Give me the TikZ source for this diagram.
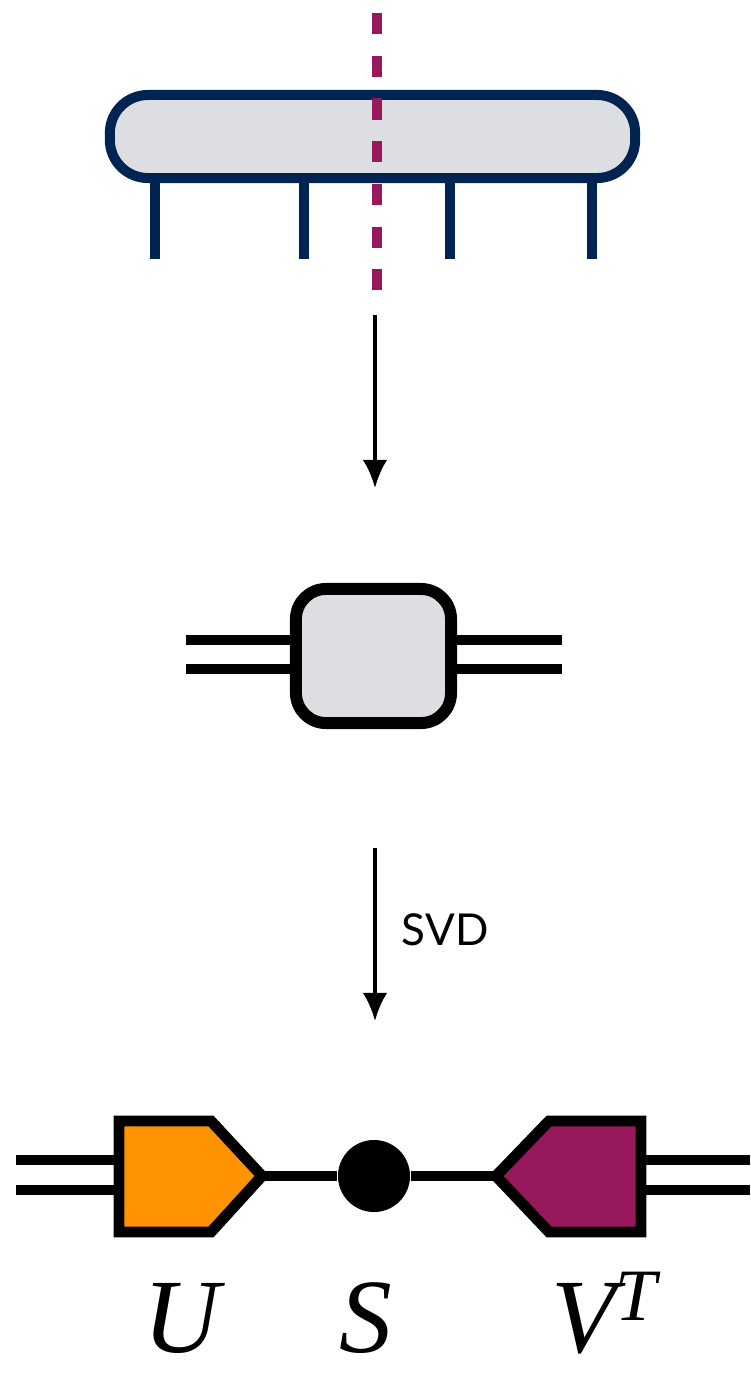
\documentclass[tikz,border=0pt]{standalone}
\usepackage{fontspec}
\setsansfont{Lato}
\newfontfamily\lblfont{Liberation Serif}
\usetikzlibrary{arrows.meta, positioning, calc}
\definecolor{TensorNavy}{RGB}{0,36,82}
\definecolor{CutPurple}{RGB}{152,24,92}
\definecolor{TensorGray}{RGB}{221,222,225}
\definecolor{UOrange}{RGB}{255,147,0}

\begin{document}
\begin{tikzpicture}[x=0.01cm, y=-0.01cm,
	bond/.style={line width=2.85pt},
	flow/.style={line width=1.1pt, -{Latex[length=8pt,width=7pt]}},
	factor/.style={draw, line width=3.1pt, line join=miter},
	lbl/.style={font=\lblfont\itshape\fontsize{30}{34}\selectfont, anchor=base, inner sep=0pt}]
	\useasboundingbox (0,0) rectangle (750,1378);
	% the chain
	\node[draw=TensorNavy, fill=TensorGray, line width=2.85pt, rounded corners=0.38cm,
		minimum width=5.25cm, minimum height=0.83cm, inner sep=0pt] (mps) at (372.5,136.5) {};
	\foreach \x in {155,304,450,592}
		{\draw[TensorNavy, line width=2.7pt] (mps.south -| \x,0) -- ++(0,76);}
	\coordinate (cuttop) at (377,13);
	\coordinate (cutbot) at (377,291);
	\draw[CutPurple, line width=3pt, dash pattern=on 6pt off 6.15pt] (cuttop) -- (cutbot);
	\coordinate (a1s) at (375,315);
	\coordinate (a1e) at (375,488);
	\draw[flow] (a1s) -- (a1e);
	% the two-site block
	\node[draw, fill=TensorGray, line width=3.4pt, rounded corners=0.3cm,
		minimum width=1.55cm, minimum height=1.34cm, inner sep=0pt] (theta) at (373.5,656) {};
	\foreach \y in {640,669}
		{\draw[bond] (theta.west |- 0,\y) -- ++(-104,0);
		 \draw[bond] (theta.east |- 0,\y) -- ++(105,0);}
	\coordinate (a2s) at (375,848);
	\coordinate (a2e) at (375,1021);
	\draw[flow] (a2s) -- (a2e) node[pos=0.47, anchor=west, xshift=0.25cm, inner sep=0pt,
		font=\sffamily\fontsize{12.5}{14}\selectfont] (svd) {SVD};
	% U S V^T
	\foreach \y in {1160,1190}
		{\draw[bond] (16,\y) -- (125,\y);
		 \draw[bond] (635,\y) -- (750,\y);}
	\coordinate (utip) at (262,1176);
	\coordinate (vtip) at (496,1176);
	\node[circle, fill, minimum size=0.72cm, inner sep=0pt] (s) at (374,1176) {};
	\draw[bond] (utip) -- (s) -- (vtip);
	\draw[factor, fill=UOrange] (119,1121) -- (211,1121) -- (utip) -- (211,1232) -- (119,1232) -- cycle;
	\draw[factor, fill=CutPurple] (641,1121) -- (549,1121) -- (vtip) -- (549,1232) -- (641,1232) -- cycle;
	\node[lbl] (ulbl) at (182,1352) {U};
	\node[lbl] (slbl) at (366,1352) {S};
	\node[lbl] (vtlbl) at (605,1352) {V\textsuperscript{T}};
\end{tikzpicture}
\end{document}
